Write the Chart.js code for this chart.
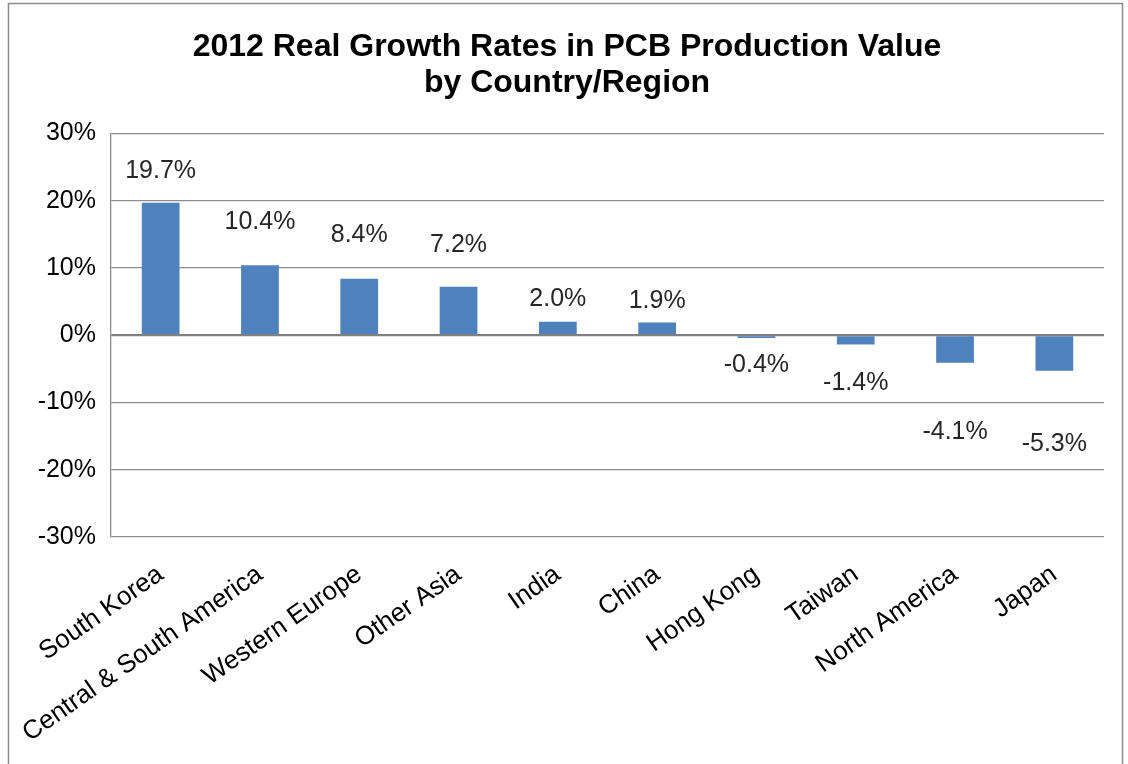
<!DOCTYPE html>
<html>
<head>
<meta charset="utf-8">
<script src="https://cdn.jsdelivr.net/npm/chart.js@4/dist/chart.umd.min.js"></script>
<style>
    html, body { margin: 0; padding: 0; background: #fff; }
    #wrap { width: 1128px; height: 764px; }
</style>
</head>
<body>
<div id="wrap"><canvas id="growthChart" width="1128" height="764"></canvas></div>
<script>
// PCB growth by region, 2012
const regions = ['South Korea', 'Central & South America', 'Western Europe', 'Other Asia', 'India',
    'China', 'Hong Kong', 'Taiwan', 'North America', 'Japan'];
const growth = [19.7, 10.4, 8.4, 7.2, 2.0, 1.9, -0.4, -1.4, -4.1, -5.3];
const yTicks = [-30, -20, -10, 0, 10, 20, 30];

const FONT = "'Liberation Sans', Arial, sans-serif";

// value labels sit at slightly different distances from the bars, like the original
const labelPlugin = {
    id: 'valueLabels',
    afterDatasetsDraw(chart, args, opts) {
        const ctx = chart.ctx;
        const meta = chart.getDatasetMeta(0);
        ctx.save();
        ctx.font = opts.size + 'px ' + FONT;
        ctx.fillStyle = opts.color;
        ctx.textAlign = 'center';
        ctx.textBaseline = 'middle';
        meta.data.forEach((bar, i) => {
            const v = growth[i];
            const off = opts.offsets[i];
            const y = v >= 0 ? bar.y - off : bar.y + off;
            ctx.fillText(v.toFixed(1) + '%', bar.x, y);
        });
        ctx.restore();
    }
};

const framePlugin = {
    id: 'frame',
    beforeDraw(chart) {
        const ctx = chart.ctx;
        ctx.save();
        ctx.fillStyle = '#fff';
        ctx.fillRect(0, 0, chart.width, chart.height);
        ctx.strokeStyle = '#8c8c8c';
        ctx.lineWidth = 1.5;
        ctx.strokeRect(8.5, 3.5, 1114, 800);
        ctx.restore();
    }
};

new Chart(document.getElementById('growthChart').getContext('2d'), {
    type: 'bar',
    data: {
        labels: regions,
        datasets: [{
            data: growth,
            backgroundColor: '#4f81bd',
            borderWidth: 0,
            barPercentage: 0.38,
            categoryPercentage: 1
        }]
    },
    options: {
        responsive: false,
        animation: false,
        layout: { padding: { left: 30, right: 24, top: 0, bottom: 0 } },
        plugins: {
            legend: { display: false },
            tooltip: { enabled: false },
            title: {
                display: true,
                text: ['2012 Real Growth Rates in PCB Production Value', 'by Country/Region'],
                color: '#000',
                font: { family: FONT, size: 32, weight: 'bold', lineHeight: 1.1 },
                padding: { top: 30, bottom: 33 }
            },
            valueLabels: {
                size: 25,
                color: '#262626',
                offsets: [32, 43, 44, 42, 23, 21, 27, 38, 69, 73]
            }
        },
        scales: {
            x: {
                grid: { display: false, drawTicks: false },
                border: { display: false },
                ticks: {
                    autoSkip: false,
                    minRotation: 35,
                    maxRotation: 35,
                    padding: 22,
                    color: '#000',
                    font: { family: FONT, size: 26 }
                },
                afterFit(scale) { scale.height = 227; }
            },
            y: {
                min: -30,
                max: 30,
                afterBuildTicks(scale) { scale.ticks = yTicks.map(v => ({ value: v })); },
                grid: {
                    drawTicks: false,
                    color: c => c.tick && c.tick.value === 0 ? '#808080' : '#8c8c8c',
                    lineWidth: c => c.tick && c.tick.value === 0 ? 2.2 : 1.3
                },
                border: { display: true, color: '#8c8c8c', width: 1.3 },
                ticks: {
                    padding: 15,
                    color: '#000',
                    font: { family: FONT, size: 25 },
                    callback: v => v + '%'
                },
                afterFit(scale) { scale.width = 81; }
            }
        }
    },
    plugins: [framePlugin, labelPlugin]
});
</script>
</body>
</html>
